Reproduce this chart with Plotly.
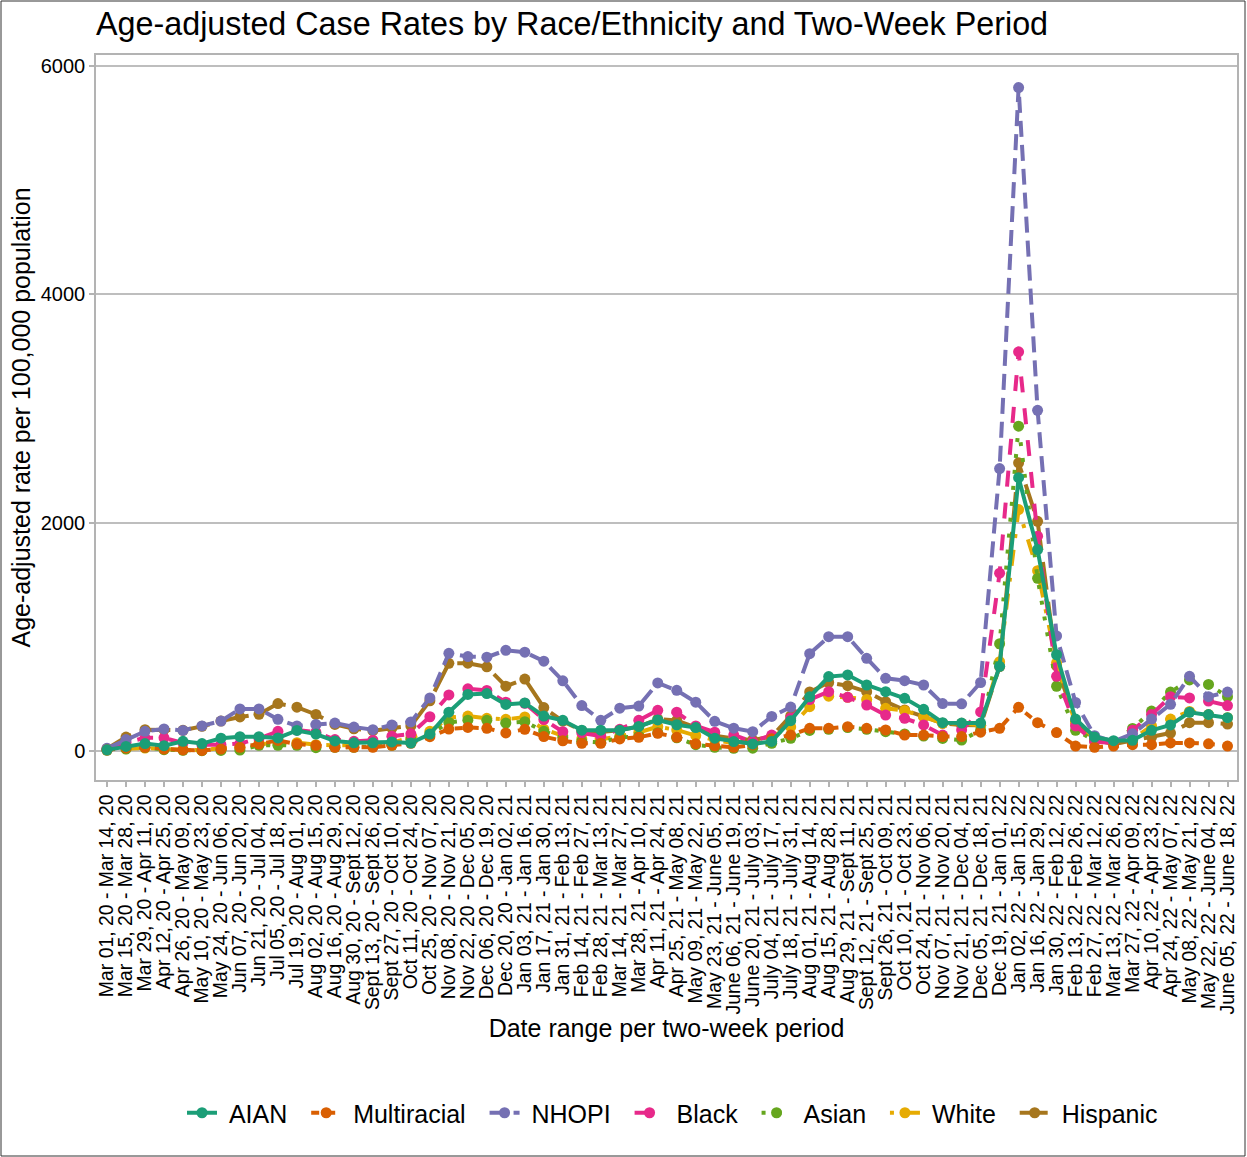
import plotly.graph_objects as go

periods = [
    "Mar 01, 20 - Mar 14, 20", "Mar 15, 20 - Mar 28, 20", "Mar 29, 20 - Apr 11, 20",
    "Apr 12, 20 - Apr 25, 20", "Apr 26, 20 - May 09, 20", "May 10, 20 - May 23, 20",
    "May 24, 20 - Jun 06, 20", "Jun 07, 20 - Jun 20, 20", "Jun 21, 20 - Jul 04, 20",
    "Jul 05, 20 - Jul 18, 20", "Jul 19, 20 - Aug 01, 20", "Aug 02, 20 - Aug 15, 20",
    "Aug 16, 20 - Aug 29, 20", "Aug 30, 20 - Sept 12, 20", "Sept 13, 20 - Sept 26, 20",
    "Sept 27, 20 - Oct 10, 20", "Oct 11, 20 - Oct 24, 20", "Oct 25, 20 - Nov 07, 20",
    "Nov 08, 20 - Nov 21, 20", "Nov 22, 20 - Dec 05, 20", "Dec 06, 20 - Dec 19, 20",
    "Dec 20, 20 - Jan 02, 21", "Jan 03, 21 - Jan 16, 21", "Jan 17, 21 - Jan 30, 21",
    "Jan 31, 21 - Feb 13, 21", "Feb 14, 21 - Feb 27, 21", "Feb 28, 21 - Mar 13, 21",
    "Mar 14, 21 - Mar 27, 21", "Mar 28, 21 - Apr 10, 21", "Apr 11, 21 - Apr 24, 21",
    "Apr 25, 21 - May 08, 21", "May 09, 21 - May 22, 21", "May 23, 21 - June 05, 21",
    "June 06, 21 - June 19, 21", "June 20, 21 - July 03, 21", "July 04, 21 - July 17, 21",
    "July 18, 21 - July 31, 21", "Aug 01, 21 - Aug 14, 21", "Aug 15, 21 - Aug 28, 21",
    "Aug 29, 21 - Sept 11, 21", "Sept 12, 21 - Sept 25, 21", "Sept 26, 21 - Oct 09, 21",
    "Oct 10, 21 - Oct 23, 21", "Oct 24, 21 - Nov 06, 21", "Nov 07, 21 - Nov 20, 21",
    "Nov 21, 21 - Dec 04, 21", "Dec 05, 21 - Dec 18, 21", "Dec 19, 21 - Jan 01, 22",
    "Jan 02, 22 - Jan 15, 22", "Jan 16, 22 - Jan 29, 22", "Jan 30, 22 - Feb 12, 22",
    "Feb 13, 22 - Feb 26, 22", "Feb 27, 22 - Mar 12, 22", "Mar 13, 22 - Mar 26, 22",
    "Mar 27, 22 - Apr 09, 22", "Apr 10, 22 - Apr 23, 22", "Apr 24, 22 - May 07, 22",
    "May 08, 22 - May 21, 22", "May 22, 22 - June 04, 22", "June 05, 22 - June 18, 22",
]

aian = [10, 40, 65, 47, 85, 65, 112, 125, 125, 114, 180, 148, 88, 72, 72, 79, 70, 148, 340, 495,
        503, 408, 421, 306, 269, 182, 182, 182, 215, 272, 230, 205, 112, 83, 62, 84, 266, 475, 652, 666,
        578, 520, 461, 365, 248, 245, 245, 742, 2394, 1764, 843, 280, 122, 90, 94, 181, 228, 339, 319, 292]
multiracial = [10, 26, 32, 17, 9, 5, 17, 32, 61, 93, 61, 50, 32, 32, 32, 50, 68, 125, 192, 206,
               199, 158, 190, 126, 89, 67, 67, 106, 120, 155, 120, 63, 45, 32, 53, 108, 140, 199, 199, 213,
               199, 184, 140, 140, 126, 126, 165, 199, 383, 248, 161, 43, 32, 43, 55, 55, 71, 71, 63, 43]
nhopi = [23, 100, 172, 193, 180, 220, 262, 368, 368, 277, 220, 232, 245, 210, 187, 228, 255, 465, 856, 827,
         822, 882, 866, 787, 615, 398, 269, 375, 394, 596, 531, 428, 260, 200, 169, 303, 385, 852, 1001, 1001,
         812, 637, 616, 578, 415, 413, 600, 2474, 5811, 2984, 1008, 425, 134, 83, 150, 280, 409, 654, 476, 516]
black = [10, 75, 115, 115, 70, 55, 55, 65, 110, 172, 184, 165, 100, 85, 95, 130, 150, 300, 491, 545,
         530, 428, 418, 276, 169, 158, 130, 190, 269, 356, 340, 220, 165, 140, 82, 140, 290, 450, 520, 470,
         403, 315, 286, 228, 140, 184, 342, 1557, 3496, 1882, 654, 220, 80, 70, 181, 319, 476, 465, 437, 398]
asian = [6, 17, 32, 12, 6, 3, 5, 8, 50, 50, 50, 29, 32, 32, 38, 50, 100, 145, 250, 270,
         269, 245, 257, 172, 115, 85, 75, 118, 131, 160, 115, 55, 32, 23, 25, 67, 111, 180, 190, 205,
         190, 169, 149, 131, 110, 96, 180, 940, 2845, 1512, 567, 181, 94, 83, 197, 350, 516, 622, 583, 476]
white = [10, 20, 26, 17, 12, 6, 26, 32, 64, 64, 73, 55, 50, 55, 55, 73, 117, 172, 293, 306,
         286, 277, 298, 191, 133, 106, 102, 130, 162, 213, 184, 135, 96, 70, 60, 126, 210, 388, 480, 470,
         452, 374, 353, 301, 242, 242, 226, 782, 2115, 1579, 772, 240, 100, 83, 100, 220, 280, 347, 319, 292]
hispanic = [20, 122, 187, 187, 181, 216, 262, 298, 322, 415, 384, 320, 233, 195, 178, 200, 220, 440, 768, 769,
            737, 568, 630, 380, 261, 178, 166, 183, 213, 280, 268, 206, 133, 111, 96, 126, 308, 517, 600, 572,
            520, 432, 359, 301, 242, 228, 226, 740, 2524, 2012, 745, 260, 100, 60, 90, 120, 157, 248, 248, 236]

series_names = ["AIAN", "Multiracial", "NHOPI", "Black", "Asian", "White", "Hispanic"]
series_values = [aian, multiracial, nhopi, black, asian, white, hispanic]
series_colors = ["#1B9E77", "#D95F02", "#7570B3", "#E7298A", "#66A61E", "#E6AB02", "#A6761D"]
series_dashes = ["solid", "8px,8px", "16px,8px", "16px,16px", "4px,12px",
                 "4px,12px,16px,12px", "28px,12px"]

y_ticks = [0, 2000, 4000, 6000]

fig = go.Figure()
# draw in reverse so AIAN ends on top; legend order fixed via legendrank
for k in reversed(range(len(series_names))):
    fig.add_trace(go.Scatter(
        x=periods, y=series_values[k], name="\u00a0" + series_names[k] + "\u00a0\u00a0",
        mode="lines+markers",
        line=dict(color=series_colors[k], width=4, dash=series_dashes[k]),
        marker=dict(color=series_colors[k], size=11),
        legendrank=k + 1,
    ))

W, H = 1247, 1157
ml, mr, mt, mb = 96, 10, 55, 377
pw, ph = W - ml - mr, H - mt - mb

def px_x(p):
    return (p - ml) / pw

def px_y(p):
    return (H - mb - p) / ph

fig.update_layout(
    width=W, height=H,
    margin=dict(l=ml, r=mr, t=mt, b=mb, autoexpand=False),
    paper_bgcolor="white", plot_bgcolor="white",
    font=dict(family="Liberation Sans, Arial, sans-serif", color="black"),
    title=dict(text="Age-adjusted Case Rates by Race/Ethnicity and Two-Week Period",
               x=px_x(96), xanchor="left", xref="paper", y=1 - 24 / H, yanchor="middle",
               font=dict(size=32.3, color="black")),
    showlegend=True,
    legend=dict(orientation="h", x=px_x(679.5), xanchor="center", y=px_y(1113), yanchor="middle",
                font=dict(size=25, color="black"), traceorder="normal"),
    xaxis=dict(
        type="category", range=[-0.58, 59.5], tickangle=-90,
        tickmode="linear", tick0=0, dtick=1,
        tickfont=dict(size=19.4, color="black"),
        showgrid=False, ticks="outside", ticklen=5, tickcolor="#B3B3B3", tickwidth=1.5,
        showline=True, linecolor="#B3B3B3", linewidth=1.5, mirror=True,
        title=dict(text="Date range per two-week period", font=dict(size=25, color="black"), standoff=4),
        automargin=False,
    ),
    yaxis=dict(
        range=[-254, 6096], tickvals=y_ticks, ticktext=[str(v) for v in y_ticks],
        tickfont=dict(size=20, color="black"),
        showgrid=True, gridcolor="#BEBEBE", gridwidth=1.5, zeroline=False,
        ticks="outside", ticklen=5, tickcolor="#B3B3B3", tickwidth=1.5,
        showline=True, linecolor="#B3B3B3", linewidth=1.5, mirror=True,
        title=dict(text="Age-adjusted rate per 100,000 population", font=dict(size=25, color="black"), standoff=3),
        automargin=False,
    ),
    shapes=[dict(type="rect", xref="paper", yref="paper",
                 x0=px_x(1), x1=px_x(1245), y0=px_y(1156), y1=px_y(1),
                 line=dict(color="#333333", width=1), layer="above")],
)

fig.write_html("out.html", config={"displayModeBar": False},
               post_script="document.body.style.margin='0px';")
